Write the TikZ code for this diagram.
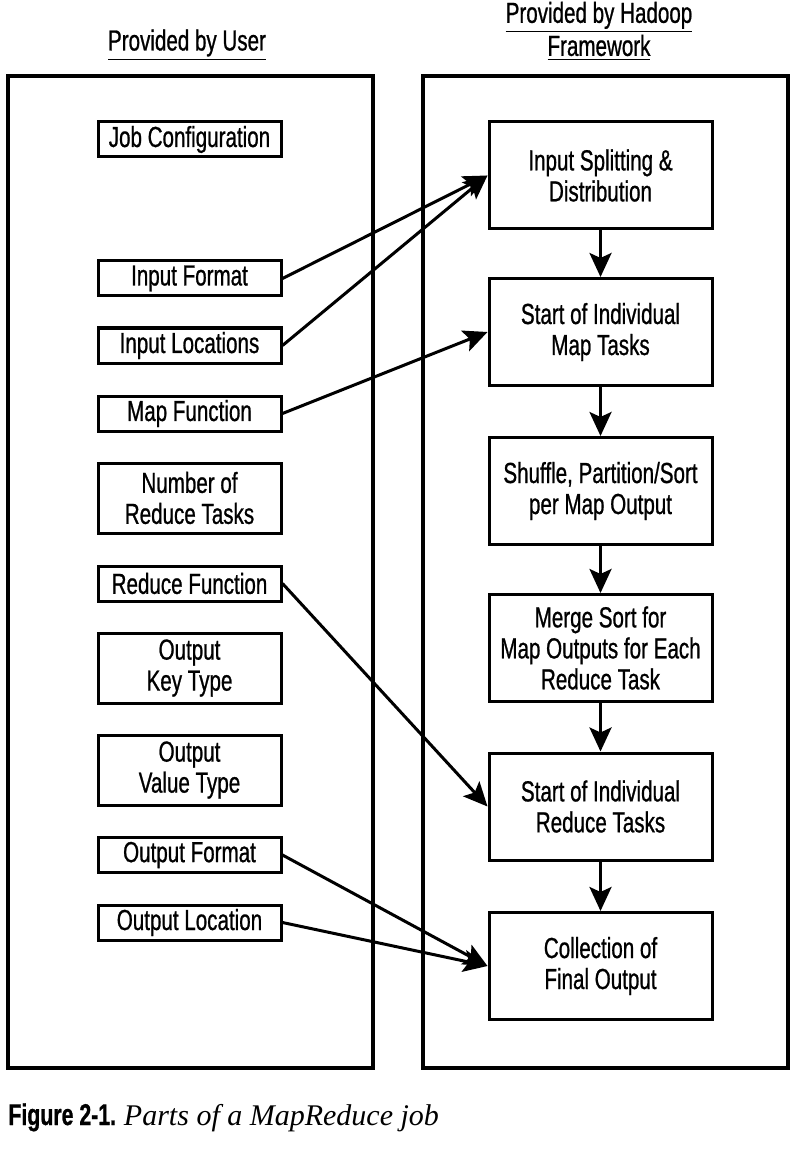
\documentclass[tikz,border=0pt]{standalone}
\usepackage{fontspec}
\setmainfont{Liberation Sans}[FakeStretch=0.71,FakeBold=0.8]
\newfontfamily\capserif{Liberation Serif}
\usepackage{tikz}
\usetikzlibrary{arrows.meta,positioning}

\begin{document}
\begin{tikzpicture}[x=0.5pt,y=-0.5pt,
    userbox/.style={draw,line width=1.5pt,minimum width=91.5pt,minimum height=17.5pt,inner sep=0pt,align=center,font=\fontsize{14.5}{15.5}\selectfont},
    tallbox/.style={userbox,minimum height=35pt},
    hadoopbox/.style={draw,line width=1.5pt,minimum width=111.5pt,minimum height=53.5pt,inner sep=0pt,align=center,font=\fontsize{14.5}{15.5}\selectfont},
    link/.style={line width=1.5pt,-{Stealth[length=12pt,width=11pt,inset=2.5pt]}}]
      \useasboundingbox (0,0) rectangle (805,1160);
      % headings and outer frames
      \node[font=\fontsize{14.5}{15.5}\selectfont] (userhead) at (187,45) {\underline{Provided by User}};
      \node[font=\fontsize{14.5}{15.5}\selectfont,align=center] (hadoophead) at (599,31) {\underline{Provided by Hadoop}\\\underline{Framework}};
      \draw[line width=2pt] (8,76) rectangle (373,1068);
      \draw[line width=2pt] (423,76) rectangle (788,1068);
      % user side
      \node[userbox] (jobconf) at (189.5,139.5) {Job Configuration};
      \node[userbox] (infmt) at (189.5,278.5) {Input Format};
      \node[userbox] (inloc) at (189.5,345.5) {Input Locations};
      \node[userbox] (mapfn) at (189.5,413.5) {Map Function};
      \node[tallbox] (nreduce) at (189.5,498) {Number of\\Reduce Tasks};
      \node[userbox] (redfn) at (189.5,583.5) {Reduce Function};
      \node[tallbox] (outkey) at (189.5,668) {Output\\Key Type};
      \node[tallbox] (outval) at (189.5,770) {Output\\Value Type};
      \node[userbox] (outfmt) at (189.5,855) {Output Format};
      \node[userbox] (outloc) at (189.5,922.5) {Output Location};
      % framework side
      \node[hadoopbox] (split) at (600.5,175.5) {Input Splitting \&\\Distribution};
      \node[hadoopbox] (maptasks) at (600.5,332) {Start of Individual\\Map Tasks};
      \node[hadoopbox] (shuffle) at (600.5,491) {Shuffle, Partition/Sort\\per Map Output};
      \node[hadoopbox] (merge) at (600.5,648) {Merge Sort for\\Map Outputs for Each\\Reduce Task};
      \node[hadoopbox] (redtasks) at (600.5,806.5) {Start of Individual\\Reduce Tasks};
      \node[hadoopbox] (collect) at (600.5,966) {Collection of\\Final Output};
      % flow
      \draw[link] (split) -- (maptasks);
      \draw[link] (maptasks) -- (shuffle);
      \draw[link] (shuffle) -- (merge);
      \draw[link] (merge) -- (redtasks);
      \draw[link] (redtasks) -- (collect);
      \draw[link] (infmt.east) -- (split.west);
      \draw[link] (inloc.east) -- (split.west);
      \draw[link] (mapfn.east) -- (maptasks.west);
      \draw[link] (redfn.east) -- (redtasks.west);
      \draw[link] (outfmt.east) -- (collect.west);
      \draw[link] (outloc.east) -- (collect.west);
      % caption
      \node[anchor=base west,inner sep=0pt,font=\fontsize{15}{17}\selectfont] (caption) at (8,1125) {\textbf{Figure 2-1.} {\capserif\itshape Parts of a MapReduce job}};
    \end{tikzpicture}
\end{document}
